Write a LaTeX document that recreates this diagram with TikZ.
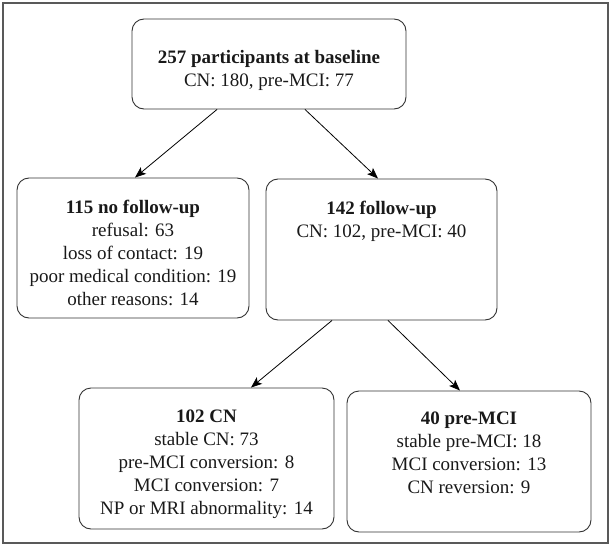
\documentclass[tikz,border=0pt]{standalone}
\usepackage{fontspec}
\setmainfont{Liberation Serif}
\usetikzlibrary{arrows.meta}
\usetikzlibrary{positioning}

\begin{document}
\begin{tikzpicture}[x=1pt,y=-1pt,
  box/.style={draw=black!80, line width=0.9pt, rounded corners=12pt, inner sep=0pt},
  txt/.style={align=center, inner sep=0pt, text=black!90, font=\fontsize{19}{23}\selectfont},
  >={Stealth[length=11pt,width=8.5pt,inset=2.5pt]}]
\useasboundingbox (0,0) rectangle (611,546);
\draw[black!65, line width=1.4pt] (3,3) rectangle (608,543);
\node[box, minimum width=274pt, minimum height=90pt] (base) at (269,64) {};
\node[box, minimum width=232pt, minimum height=140pt] (nofu) at (133,248) {};
\node[box, minimum width=231pt, minimum height=141pt] (fu) at (381.5,249.5) {};
\node[box, minimum width=255pt, minimum height=141pt] (cn) at (206.5,458.5) {};
\node[box, minimum width=244pt, minimum height=141pt] (pre) at (469,461.5) {};
\node[txt, below=32pt of base.north] (base-t) {\textbf{257 participants at baseline}\\ CN: 180, pre-MCI: 77};
\node[txt, below=22pt of nofu.north] (nofu-t) {\textbf{115 no follow-up}\\ refusal: 63\\ loss of contact: 19\\ poor medical condition: 19\\ other reasons: 14};
\node[txt, below=22pt of fu.north] (fu-t) {\textbf{142 follow-up}\\ CN: 102, pre-MCI: 40};
\node[txt, below=22pt of cn.north] (cn-t) {\textbf{102 CN}\\ stable CN: 73\\ pre-MCI conversion: 8\\ MCI conversion: 7\\ NP or MRI abnormality: 14};
\node[txt, below=21pt of pre.north] (pre-t) {\textbf{40 pre-MCI}\\ stable pre-MCI: 18\\ MCI conversion: 13\\ CN reversion: 9};
\path[->, line width=0.8pt] ([xshift=-52pt]base.south) edge ([xshift=2pt]nofu.north);
\path[->, line width=0.8pt] ([xshift=36pt]base.south) edge ([xshift=-3.5pt]fu.north);
\path[->, line width=0.8pt] ([xshift=-49.5pt]fu.south) edge ([xshift=44.5pt]cn.north);
\path[->, line width=0.8pt] ([xshift=6.5pt]fu.south) edge ([xshift=-9pt]pre.north);
\end{tikzpicture}
\end{document}
